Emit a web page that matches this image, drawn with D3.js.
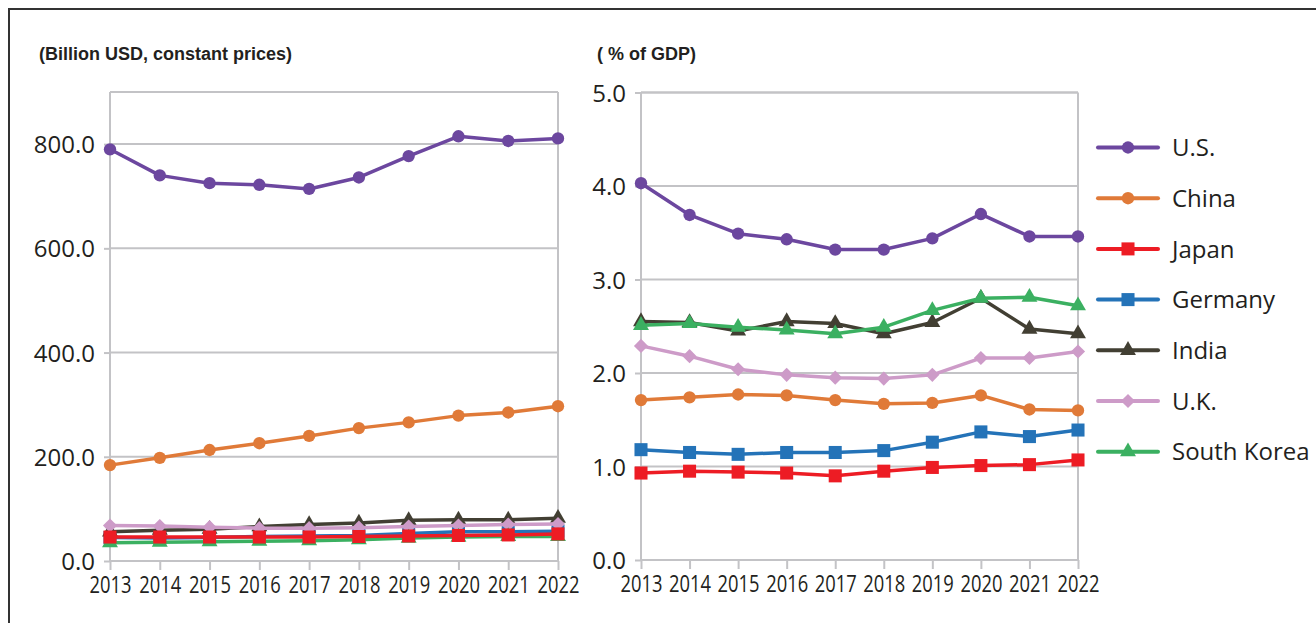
<!DOCTYPE html>
<html>
<head>
<meta charset="utf-8">
<script src="https://cdn.jsdelivr.net/npm/d3@7"></script>
<style>
  html, body { margin: 0; padding: 0; background: #fff; }
  svg { display: block; }
</style>
</head>
<body>
<svg id="chart" width="1316" height="623"></svg>
<script>
const years = [2013, 2014, 2015, 2016, 2017, 2018, 2019, 2020, 2021, 2022];
const countries = ["U.S.", "China", "Japan", "Germany", "India", "U.K.", "South Korea"];

// Left chart: billion USD, constant prices
const usdUS      = [790, 740, 725, 722, 714, 736, 777, 815, 806, 811];
const usdChina   = [184, 198, 213, 226, 240, 255, 266, 279, 285, 297];
const usdJapan   = [46, 46, 46, 46, 46, 47, 48, 49, 50, 52];
const usdGermany = [45, 44, 45, 47, 48, 49, 53, 56, 56, 57];
const usdIndia   = [56, 59, 61, 66, 70, 73, 78, 79, 79, 82];
const usdUK      = [68, 67, 65, 63, 63, 64, 66, 68, 70, 71];
const usdKorea   = [35, 36, 37, 38, 39, 41, 44, 46, 47, 47];

// Right chart: % of GDP
const gdpUS      = [4.03, 3.69, 3.49, 3.43, 3.32, 3.32, 3.44, 3.70, 3.46, 3.46];
const gdpChina   = [1.71, 1.74, 1.77, 1.76, 1.71, 1.67, 1.68, 1.76, 1.61, 1.60];
const gdpJapan   = [0.93, 0.95, 0.94, 0.93, 0.90, 0.95, 0.99, 1.01, 1.02, 1.07];
const gdpGermany = [1.18, 1.15, 1.13, 1.15, 1.15, 1.17, 1.26, 1.37, 1.32, 1.39];
const gdpIndia   = [2.55, 2.54, 2.45, 2.55, 2.53, 2.42, 2.54, 2.80, 2.47, 2.42];
const gdpUK      = [2.29, 2.18, 2.04, 1.98, 1.95, 1.94, 1.98, 2.16, 2.16, 2.23];
const gdpKorea   = [2.51, 2.53, 2.49, 2.46, 2.42, 2.49, 2.67, 2.80, 2.81, 2.72];

const leftTicks  = [0, 200, 400, 600, 800];
const rightTicks = [0, 1, 2, 3, 4, 5];
const leftTitle  = "(Billion USD, constant prices)";
const rightTitle = "( % of GDP)";

const colors = {
  "U.S.": "#6c479f", "China": "#e07a38", "Japan": "#ed1c24", "Germany": "#2473b8",
  "India": "#423f33", "U.K.": "#cd9bc8", "South Korea": "#3bb061"
};
const shapes = {
  "U.S.": "circle", "China": "circle", "Japan": "square", "Germany": "square",
  "India": "triangle", "U.K.": "diamond", "South Korea": "triangle"
};
const leftData = {
  "U.S.": usdUS, "China": usdChina, "Japan": usdJapan, "Germany": usdGermany,
  "India": usdIndia, "U.K.": usdUK, "South Korea": usdKorea
};
const rightData = {
  "U.S.": gdpUS, "China": gdpChina, "Japan": gdpJapan, "Germany": gdpGermany,
  "India": gdpIndia, "U.K.": gdpUK, "South Korea": gdpKorea
};
// drawing order (last on top)
const drawOrder = ["U.S.", "China", "Germany", "India", "U.K.", "South Korea", "Japan"];

const svg = d3.select("#chart");
const tickFont = "'Open Sans', 'DejaVu Sans', sans-serif";
const gridColor = "#c3c3c6";

// outer frame
svg.append("rect").attr("x", 9).attr("y", 9).attr("width", 1330).attr("height", 640)
  .attr("fill", "none").attr("stroke", "#333").attr("stroke-width", 2);

function symbolPath(shape) {
  const map = {
    circle: d3.symbol().type(d3.symbolCircle).size(120),
    square: d3.symbol().type(d3.symbolSquare).size(170),
    triangle: d3.symbol().type(d3.symbolTriangle).size(110),
    diamond: d3.symbol().type(d3.symbolSquare).size(100)
  };
  return map[shape]();
}

function drawPanel(cfg) {
  const x = d3.scalePoint().domain(years).range([cfg.x0, cfg.x1]);
  const y = d3.scaleLinear().domain(cfg.domain).range([cfg.y0, cfg.y1]);
  const g = svg.append("g");

  // horizontal gridlines
  g.append("g").selectAll("line").data(cfg.ticks).join("line")
    .attr("x1", cfg.x0).attr("x2", cfg.x1)
    .attr("y1", d => y(d)).attr("y2", d => y(d))
    .attr("stroke", gridColor).attr("stroke-width", 2);
  // plot box top/left/right
  g.append("line").attr("x1", cfg.x0).attr("x2", cfg.x1)
    .attr("y1", y(cfg.domain[1])).attr("y2", y(cfg.domain[1]))
    .attr("stroke", gridColor).attr("stroke-width", 2);
  [cfg.x0, cfg.x1].forEach(xx => {
    g.append("line").attr("x1", xx).attr("x2", xx)
      .attr("y1", y(cfg.domain[1])).attr("y2", y(0))
      .attr("stroke", gridColor).attr("stroke-width", 2);
  });

  // y axis
  const ya = g.append("g").attr("transform", `translate(${cfg.x0},0)`)
    .call(d3.axisLeft(y).tickValues(cfg.ticks).tickSize(6).tickPadding(9)
      .tickFormat(d3.format(".1f")));
  ya.select(".domain").remove();
  ya.selectAll(".tick line").attr("stroke", gridColor).attr("stroke-width", 2);
  ya.selectAll(".tick text").attr("font-family", tickFont).attr("font-size", 24)
    .attr("fill", "#231f20").attr("dy", "0.36em");

  // x axis
  const xa = g.append("g").attr("transform", `translate(0,${y(0)})`)
    .call(d3.axisBottom(x).tickSize(9).tickPadding(6).tickFormat(d3.format("d")));
  xa.select(".domain").remove();
  xa.selectAll(".tick line").attr("stroke", gridColor).attr("stroke-width", 2);
  xa.selectAll(".tick text").attr("font-family", tickFont).attr("font-size", 23)
    .attr("fill", "#231f20").attr("dy", "0.72em")
    .attr("textLength", 42).attr("lengthAdjust", "spacingAndGlyphs");

  // title
  svg.append("text").attr("x", cfg.titleX).attr("y", 60)
    .attr("font-family", "'Liberation Sans', Arial, sans-serif")
    .attr("font-size", 18).attr("font-weight", "bold").attr("fill", "#231f20")
    .text(cfg.title);

  const line = d3.line().x((d, i) => x(years[i])).y(d => y(d));
  drawOrder.forEach(c => {
    const vals = cfg.data[c];
    const sg = g.append("g");
    sg.append("path").datum(vals).attr("d", line)
      .attr("fill", "none").attr("stroke", colors[c]).attr("stroke-width", 3.5)
      .attr("stroke-linejoin", "round");
    sg.selectAll("path.m").data(vals).join("path").attr("class", "m")
      .attr("d", symbolPath(shapes[c]))
      .attr("transform", (d, i) => `translate(${x(years[i])},${y(d)})` + (shapes[c] === "diamond" ? " rotate(45)" : ""))
      .attr("fill", colors[c]);
  });
}

drawPanel({ x0: 110, x1: 558, y0: 561, y1: 92, domain: [0, 900], ticks: leftTicks,
  data: leftData, title: leftTitle, titleX: 39 });
drawPanel({ x0: 641, x1: 1078, y0: 560, y1: 92.5, domain: [0, 5], ticks: rightTicks,
  data: rightData, title: rightTitle, titleX: 597 });

// legend
const lg = svg.append("g");
countries.forEach((c, i) => {
  const yy = 147.5 + i * 50.7;
  lg.append("line").attr("x1", 1098).attr("x2", 1158).attr("y1", yy).attr("y2", yy)
    .attr("stroke", colors[c]).attr("stroke-width", 4).attr("stroke-linecap", "round");
  lg.append("path").attr("d", symbolPath(shapes[c]))
    .attr("transform", `translate(1128,${yy})` + (shapes[c] === "diamond" ? " rotate(45)" : ""))
    .attr("fill", colors[c]);
  lg.append("text").attr("x", 1172).attr("y", yy).attr("dy", "0.36em")
    .attr("font-family", tickFont).attr("font-size", 24).attr("fill", "#231f20")
    .text(c);
});
</script>
</body>
</html>
